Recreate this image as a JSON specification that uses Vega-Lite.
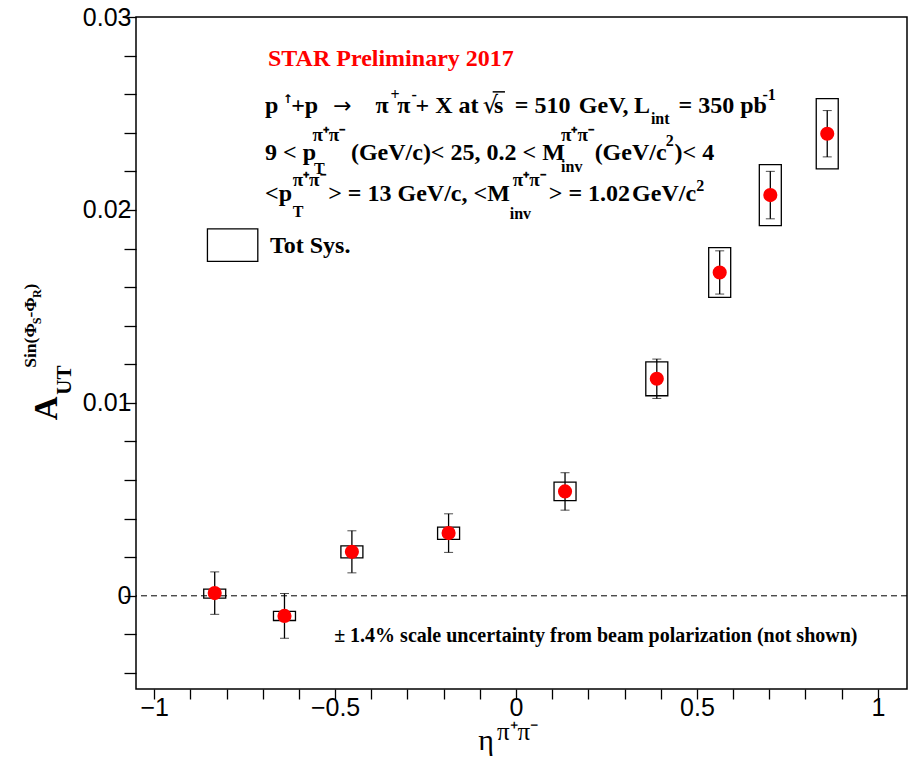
{
"$schema": "https://vega.github.io/schema/vega-lite/v6.json",
"width": 771, "height": 672,
"autosize": "none",
"padding": {"left": 136, "top": 17, "right": 1, "bottom": 71},
"background": "white",
"config": {"view": {"stroke": "black", "strokeWidth": 1.5}, "axis": {"grid": false, "domain": false, "tickColor": "black", "tickWidth": 1.3, "labelFont": "Liberation Sans", "labelFontSize": 25, "labelColor": "black"}},
"data": {"values": [{}]},
"datasets": {"pts": [
{"eta": -0.8326, "A": 0.00014, "stat": 0.0011, "sys_lo": -0.00012, "sys_hi": 0.00035},
{"eta": -0.6398, "A": -0.00104, "stat": 0.00116, "sys_lo": -0.00128, "sys_hi": -0.00081},
{"eta": -0.4535, "A": 0.00228, "stat": 0.00109, "sys_lo": 0.00197, "sys_hi": 0.00259},
{"eta": -0.1863, "A": 0.00325, "stat": 0.001, "sys_lo": 0.00292, "sys_hi": 0.00356},
{"eta": 0.1355, "A": 0.00541, "stat": 0.00097, "sys_lo": 0.00493, "sys_hi": 0.00589},
{"eta": 0.3891, "A": 0.01125, "stat": 0.00102, "sys_lo": 0.01037, "sys_hi": 0.01213},
{"eta": 0.5629, "A": 0.01676, "stat": 0.00112, "sys_lo": 0.01547, "sys_hi": 0.01805},
{"eta": 0.7028, "A": 0.02077, "stat": 0.00123, "sys_lo": 0.01919, "sys_hi": 0.02235},
{"eta": 0.8601, "A": 0.02395, "stat": 0.0012, "sys_lo": 0.02213, "sys_hi": 0.02577}
]},
"layer": [
{"mark": {"type": "rule", "strokeDash": [6, 4], "color": "black", "strokeWidth": 1},
 "encoding": {"y": {"datum": 0, "type": "quantitative", "scale": {"domain": [-0.00483, 0.03], "nice": false, "zero": false}}}},
{"data": {"name": "pts"},
 "mark": {"type": "bar", "width": 22, "fill": "transparent", "stroke": "black", "strokeWidth": 1.3},
 "encoding": {
  "x": {"field": "eta", "type": "quantitative", "scale": {"domain": [-1.0363, 1.0667], "nice": false, "zero": false},
        "axis": {"title": null, "tickCount": 21, "labelExpr": "abs(datum.value*2-round(datum.value*2))<1e-6 ? format(datum.value,'~g') : ''", "tickSize": 10, "labelPadding": -4, "labelFlush": false, "labelOverlap": false, "labelBaseline": "top",
                 "encode": {"ticks": {"update": {"y2": {"signal": "abs(datum.value*2-round(datum.value*2))<1e-6 ? -20 : -10"}}}}}},
  "y": {"field": "sys_lo", "type": "quantitative", "scale": {"domain": [-0.00483, 0.03], "nice": false, "zero": false},
        "axis": {"title": null, "tickCount": 18, "labelExpr": "abs(datum.value*100-round(datum.value*100))<1e-6 ? format(datum.value,'~g') : ''", "tickSize": 12, "labelPadding": -7, "labelFlush": false, "labelOverlap": false,
                 "encode": {"ticks": {"update": {"x2": {"signal": "abs(datum.value*100-round(datum.value*100))<1e-6 ? 22 : 12"}}}}}},
  "y2": {"field": "sys_hi"}}},
{"data": {"name": "pts"},
 "mark": {"type": "errorbar", "ticks": {"size": 9, "color": "black", "strokeWidth": 1.3}, "rule": {"color": "black", "strokeWidth": 1.3}},
 "encoding": {
  "x": {"field": "eta", "type": "quantitative", "scale": {"domain": [-1.0363, 1.0667], "nice": false, "zero": false}},
  "y": {"field": "A", "type": "quantitative", "scale": {"domain": [-0.00483, 0.03], "nice": false, "zero": false}},
  "yError": {"field": "stat"}}},
{"data": {"name": "pts"},
 "mark": {"type": "circle", "size": 200, "color": "#ff0000", "opacity": 1},
 "encoding": {
  "x": {"field": "eta", "type": "quantitative", "scale": {"domain": [-1.0363, 1.0667], "nice": false, "zero": false}},
  "y": {"field": "A", "type": "quantitative", "scale": {"domain": [-0.00483, 0.03], "nice": false, "zero": false}}}},
{"mark": {"type": "rect", "fill": "transparent", "stroke": "black", "strokeWidth": 1.3},
 "encoding": {"x": {"datum": -0.8527, "type": "quantitative"}, "x2": {"datum": -0.7135}, "y": {"datum": 0.01902, "type": "quantitative"}, "y2": {"datum": 0.01733}}},
{"mark": {"type": "rule", "color": "black", "strokeWidth": 1.5},
 "encoding": {"x": {"datum": -0.0645, "type": "quantitative"}, "x2": {"datum": -0.0305}, "y": {"datum": 0.02612, "type": "quantitative"}}},
{"mark": {"type": "text", "text": "STAR Preliminary 2017", "font": "Liberation Serif", "fontWeight": "bold", "fontSize": 24, "align": "left", "baseline": "alphabetic", "color": "#ff0000"},
 "encoding": {"x": {"datum": -0.6853, "type": "quantitative"}, "y": {"datum": 0.02747, "type": "quantitative"}}},
{"mark": {"type": "text", "text": "p", "font": "Liberation Serif", "fontWeight": "bold", "fontSize": 24, "align": "left", "baseline": "alphabetic", "color": "black"},
 "encoding": {"x": {"datum": -0.6935, "type": "quantitative"}, "y": {"datum": 0.02504, "type": "quantitative"}}},
{"mark": {"type": "text", "text": "↑", "font": "DejaVu Sans", "fontWeight": "bold", "fontSize": 12, "align": "left", "baseline": "alphabetic", "color": "black"},
 "encoding": {"x": {"datum": -0.6444, "type": "quantitative"}, "y": {"datum": 0.02555, "type": "quantitative"}}},
{"mark": {"type": "text", "text": "+p", "font": "Liberation Serif", "fontWeight": "bold", "fontSize": 24, "align": "left", "baseline": "alphabetic", "color": "black"},
 "encoding": {"x": {"datum": -0.6213, "type": "quantitative"}, "y": {"datum": 0.02504, "type": "quantitative"}}},
{"mark": {"type": "text", "text": "→", "font": "DejaVu Sans", "fontSize": 22, "align": "left", "baseline": "alphabetic", "color": "black"},
 "encoding": {"x": {"datum": -0.5053, "type": "quantitative"}, "y": {"datum": 0.02504, "type": "quantitative"}}},
{"mark": {"type": "text", "text": "π", "font": "Liberation Serif", "fontWeight": "bold", "fontSize": 24, "align": "left", "baseline": "alphabetic", "color": "black"},
 "encoding": {"x": {"datum": -0.3881, "type": "quantitative"}, "y": {"datum": 0.02504, "type": "quantitative"}}},
{"mark": {"type": "text", "text": "+", "font": "Liberation Serif", "fontWeight": "bold", "fontSize": 16, "align": "left", "baseline": "alphabetic", "color": "black"},
 "encoding": {"x": {"datum": -0.3471, "type": "quantitative"}, "y": {"datum": 0.02571, "type": "quantitative"}}},
{"mark": {"type": "text", "text": "π", "font": "Liberation Serif", "fontWeight": "bold", "fontSize": 24, "align": "left", "baseline": "alphabetic", "color": "black"},
 "encoding": {"x": {"datum": -0.3281, "type": "quantitative"}, "y": {"datum": 0.02504, "type": "quantitative"}}},
{"mark": {"type": "text", "text": "-", "font": "Liberation Serif", "fontWeight": "bold", "fontSize": 16, "align": "left", "baseline": "alphabetic", "color": "black"},
 "encoding": {"x": {"datum": -0.2885, "type": "quantitative"}, "y": {"datum": 0.02571, "type": "quantitative"}}},
{"mark": {"type": "text", "text": "+ X at", "font": "Liberation Serif", "fontWeight": "bold", "fontSize": 24, "align": "left", "baseline": "alphabetic", "color": "black"},
 "encoding": {"x": {"datum": -0.2776, "type": "quantitative"}, "y": {"datum": 0.02504, "type": "quantitative"}}},
{"mark": {"type": "text", "text": "√", "font": "DejaVu Serif", "fontSize": 24, "align": "left", "baseline": "alphabetic", "color": "black"},
 "encoding": {"x": {"datum": -0.0922, "type": "quantitative"}, "y": {"datum": 0.02504, "type": "quantitative"}}},
{"mark": {"type": "text", "text": "s", "font": "Liberation Serif", "fontWeight": "bold", "fontSize": 24, "align": "left", "baseline": "alphabetic", "color": "black"},
 "encoding": {"x": {"datum": -0.0608, "type": "quantitative"}, "y": {"datum": 0.02504, "type": "quantitative"}}},
{"mark": {"type": "text", "text": "= 510", "font": "Liberation Serif", "fontWeight": "bold", "fontSize": 24, "align": "left", "baseline": "alphabetic", "color": "black"},
 "encoding": {"x": {"datum": -0.0035, "type": "quantitative"}, "y": {"datum": 0.02504, "type": "quantitative"}}},
{"mark": {"type": "text", "text": "GeV,", "font": "Liberation Serif", "fontWeight": "bold", "fontSize": 24, "align": "left", "baseline": "alphabetic", "color": "black"},
 "encoding": {"x": {"datum": 0.1737, "type": "quantitative"}, "y": {"datum": 0.02504, "type": "quantitative"}}},
{"mark": {"type": "text", "text": "L", "font": "Liberation Serif", "fontWeight": "bold", "fontSize": 24, "align": "left", "baseline": "alphabetic", "color": "black"},
 "encoding": {"x": {"datum": 0.3264, "type": "quantitative"}, "y": {"datum": 0.02504, "type": "quantitative"}}},
{"mark": {"type": "text", "text": "int", "font": "Liberation Serif", "fontWeight": "bold", "fontSize": 16, "align": "left", "baseline": "alphabetic", "color": "black"},
 "encoding": {"x": {"datum": 0.3728, "type": "quantitative"}, "y": {"datum": 0.02443, "type": "quantitative"}}},
{"mark": {"type": "text", "text": "= 350 pb", "font": "Liberation Serif", "fontWeight": "bold", "fontSize": 24, "align": "left", "baseline": "alphabetic", "color": "black"},
 "encoding": {"x": {"datum": 0.4491, "type": "quantitative"}, "y": {"datum": 0.02504, "type": "quantitative"}}},
{"mark": {"type": "text", "text": "-1", "font": "Liberation Serif", "fontWeight": "bold", "fontSize": 16, "align": "left", "baseline": "alphabetic", "color": "black"},
 "encoding": {"x": {"datum": 0.681, "type": "quantitative"}, "y": {"datum": 0.02571, "type": "quantitative"}}},
{"mark": {"type": "text", "text": "9 < p", "font": "Liberation Serif", "fontWeight": "bold", "fontSize": 24, "align": "left", "baseline": "alphabetic", "color": "black"},
 "encoding": {"x": {"datum": -0.6935, "type": "quantitative"}, "y": {"datum": 0.02261, "type": "quantitative"}}},
{"mark": {"type": "text", "text": "π⁺π⁻", "font": "Liberation Serif", "fontWeight": "bold", "fontSize": 19, "align": "left", "baseline": "alphabetic", "color": "black"},
 "encoding": {"x": {"datum": -0.5626, "type": "quantitative"}, "y": {"datum": 0.02355, "type": "quantitative"}}},
{"mark": {"type": "text", "text": "T", "font": "Liberation Serif", "fontWeight": "bold", "fontSize": 16, "align": "left", "baseline": "alphabetic", "color": "black"},
 "encoding": {"x": {"datum": -0.5585, "type": "quantitative"}, "y": {"datum": 0.02187, "type": "quantitative"}}},
{"mark": {"type": "text", "text": "(GeV/c)< 25, 0.2 < M", "font": "Liberation Serif", "fontWeight": "bold", "fontSize": 24, "align": "left", "baseline": "alphabetic", "color": "black"},
 "encoding": {"x": {"datum": -0.4562, "type": "quantitative"}, "y": {"datum": 0.02261, "type": "quantitative"}}},
{"mark": {"type": "text", "text": "π⁺π⁻", "font": "Liberation Serif", "fontWeight": "bold", "fontSize": 19, "align": "left", "baseline": "alphabetic", "color": "black"},
 "encoding": {"x": {"datum": 0.1246, "type": "quantitative"}, "y": {"datum": 0.02355, "type": "quantitative"}}},
{"mark": {"type": "text", "text": "inv", "font": "Liberation Serif", "fontWeight": "bold", "fontSize": 16, "align": "left", "baseline": "alphabetic", "color": "black"},
 "encoding": {"x": {"datum": 0.1246, "type": "quantitative"}, "y": {"datum": 0.02196, "type": "quantitative"}}},
{"mark": {"type": "text", "text": "(GeV/c", "font": "Liberation Serif", "fontWeight": "bold", "fontSize": 24, "align": "left", "baseline": "alphabetic", "color": "black"},
 "encoding": {"x": {"datum": 0.2173, "type": "quantitative"}, "y": {"datum": 0.02261, "type": "quantitative"}}},
{"mark": {"type": "text", "text": "2", "font": "Liberation Serif", "fontWeight": "bold", "fontSize": 16, "align": "left", "baseline": "alphabetic", "color": "black"},
 "encoding": {"x": {"datum": 0.4137, "type": "quantitative"}, "y": {"datum": 0.02332, "type": "quantitative"}}},
{"mark": {"type": "text", "text": ")< 4", "font": "Liberation Serif", "fontWeight": "bold", "fontSize": 24, "align": "left", "baseline": "alphabetic", "color": "black"},
 "encoding": {"x": {"datum": 0.4383, "type": "quantitative"}, "y": {"datum": 0.02261, "type": "quantitative"}}},
{"mark": {"type": "text", "text": "<p", "font": "Liberation Serif", "fontWeight": "bold", "fontSize": 24, "align": "left", "baseline": "alphabetic", "color": "black"},
 "encoding": {"x": {"datum": -0.6935, "type": "quantitative"}, "y": {"datum": 0.02044, "type": "quantitative"}}},
{"mark": {"type": "text", "text": "π⁺π⁻", "font": "Liberation Serif", "fontWeight": "bold", "fontSize": 19, "align": "left", "baseline": "alphabetic", "color": "black"},
 "encoding": {"x": {"datum": -0.6171, "type": "quantitative"}, "y": {"datum": 0.02122, "type": "quantitative"}}},
{"mark": {"type": "text", "text": "T", "font": "Liberation Serif", "fontWeight": "bold", "fontSize": 16, "align": "left", "baseline": "alphabetic", "color": "black"},
 "encoding": {"x": {"datum": -0.6171, "type": "quantitative"}, "y": {"datum": 0.01963, "type": "quantitative"}}},
{"mark": {"type": "text", "text": "> = 13 GeV/c, <M", "font": "Liberation Serif", "fontWeight": "bold", "fontSize": 24, "align": "left", "baseline": "alphabetic", "color": "black"},
 "encoding": {"x": {"datum": -0.519, "type": "quantitative"}, "y": {"datum": 0.02044, "type": "quantitative"}}},
{"mark": {"type": "text", "text": "π⁺π⁻", "font": "Liberation Serif", "fontWeight": "bold", "fontSize": 19, "align": "left", "baseline": "alphabetic", "color": "black"},
 "encoding": {"x": {"datum": -0.009, "type": "quantitative"}, "y": {"datum": 0.02122, "type": "quantitative"}}},
{"mark": {"type": "text", "text": "inv", "font": "Liberation Serif", "fontWeight": "bold", "fontSize": 16, "align": "left", "baseline": "alphabetic", "color": "black"},
 "encoding": {"x": {"datum": -0.0172, "type": "quantitative"}, "y": {"datum": 0.01954, "type": "quantitative"}}},
{"mark": {"type": "text", "text": "> = 1.02", "font": "Liberation Serif", "fontWeight": "bold", "fontSize": 24, "align": "left", "baseline": "alphabetic", "color": "black"},
 "encoding": {"x": {"datum": 0.0905, "type": "quantitative"}, "y": {"datum": 0.02044, "type": "quantitative"}}},
{"mark": {"type": "text", "text": "GeV/c", "font": "Liberation Serif", "fontWeight": "bold", "fontSize": 24, "align": "left", "baseline": "alphabetic", "color": "black"},
 "encoding": {"x": {"datum": 0.3209, "type": "quantitative"}, "y": {"datum": 0.02044, "type": "quantitative"}}},
{"mark": {"type": "text", "text": "2", "font": "Liberation Serif", "fontWeight": "bold", "fontSize": 16, "align": "left", "baseline": "alphabetic", "color": "black"},
 "encoding": {"x": {"datum": 0.4983, "type": "quantitative"}, "y": {"datum": 0.02099, "type": "quantitative"}}},
{"mark": {"type": "text", "text": "Tot Sys.", "font": "Liberation Serif", "fontWeight": "bold", "fontSize": 24, "align": "left", "baseline": "alphabetic", "color": "black"},
 "encoding": {"x": {"datum": -0.68, "type": "quantitative"}, "y": {"datum": 0.01776, "type": "quantitative"}}},
{"mark": {"type": "text", "text": "± 1.4% scale uncertainty from beam polarization (not shown)", "font": "Liberation Serif", "fontWeight": "bold", "fontSize": 20, "align": "left", "baseline": "alphabetic", "color": "black"},
 "encoding": {"x": {"datum": -0.5026, "type": "quantitative"}, "y": {"datum": -0.00238, "type": "quantitative"}}},
{"mark": {"type": "text", "text": "A", "font": "Liberation Serif", "fontWeight": "bold", "fontSize": 33, "angle": 270, "align": "left", "baseline": "alphabetic", "color": "black"},
 "encoding": {"x": {"datum": -1.269, "type": "quantitative"}, "y": {"datum": 0.0091, "type": "quantitative"}}},
{"mark": {"type": "text", "text": "UT", "font": "Liberation Serif", "fontWeight": "bold", "fontSize": 21, "angle": 270, "align": "left", "baseline": "alphabetic", "color": "black"},
 "encoding": {"x": {"datum": -1.2307, "type": "quantitative"}, "y": {"datum": 0.01042, "type": "quantitative"}}},
{"mark": {"type": "text", "text": "Sin(Φ", "font": "Liberation Serif", "fontWeight": "bold", "fontSize": 17.5, "angle": 270, "align": "left", "baseline": "alphabetic", "color": "black"},
 "encoding": {"x": {"datum": -1.3261, "type": "quantitative"}, "y": {"datum": 0.01182, "type": "quantitative"}}},
{"mark": {"type": "text", "text": "S", "font": "Liberation Serif", "fontWeight": "bold", "fontSize": 12, "angle": 270, "align": "left", "baseline": "alphabetic", "color": "black"},
 "encoding": {"x": {"datum": -1.3125, "type": "quantitative"}, "y": {"datum": 0.01408, "type": "quantitative"}}},
{"mark": {"type": "text", "text": "-Φ", "font": "Liberation Serif", "fontWeight": "bold", "fontSize": 17.5, "angle": 270, "align": "left", "baseline": "alphabetic", "color": "black"},
 "encoding": {"x": {"datum": -1.3261, "type": "quantitative"}, "y": {"datum": 0.01442, "type": "quantitative"}}},
{"mark": {"type": "text", "text": "R", "font": "Liberation Serif", "fontWeight": "bold", "fontSize": 12, "angle": 270, "align": "left", "baseline": "alphabetic", "color": "black"},
 "encoding": {"x": {"datum": -1.3125, "type": "quantitative"}, "y": {"datum": 0.01543, "type": "quantitative"}}},
{"mark": {"type": "text", "text": ")", "font": "Liberation Serif", "fontWeight": "bold", "fontSize": 17.5, "angle": 270, "align": "left", "baseline": "alphabetic", "color": "black"},
 "encoding": {"x": {"datum": -1.3261, "type": "quantitative"}, "y": {"datum": 0.01588, "type": "quantitative"}}},
{"mark": {"type": "text", "text": "η", "font": "Liberation Serif", "fontSize": 30, "align": "left", "baseline": "alphabetic", "color": "black"},
 "encoding": {"x": {"datum": -0.1044, "type": "quantitative"}, "y": {"datum": -0.00798, "type": "quantitative"}}},
{"mark": {"type": "text", "text": "π⁺π⁻", "font": "Liberation Serif", "fontSize": 25, "align": "left", "baseline": "alphabetic", "color": "black"},
 "encoding": {"x": {"datum": -0.0527, "type": "quantitative"}, "y": {"datum": -0.00746, "type": "quantitative"}}}
]
}
